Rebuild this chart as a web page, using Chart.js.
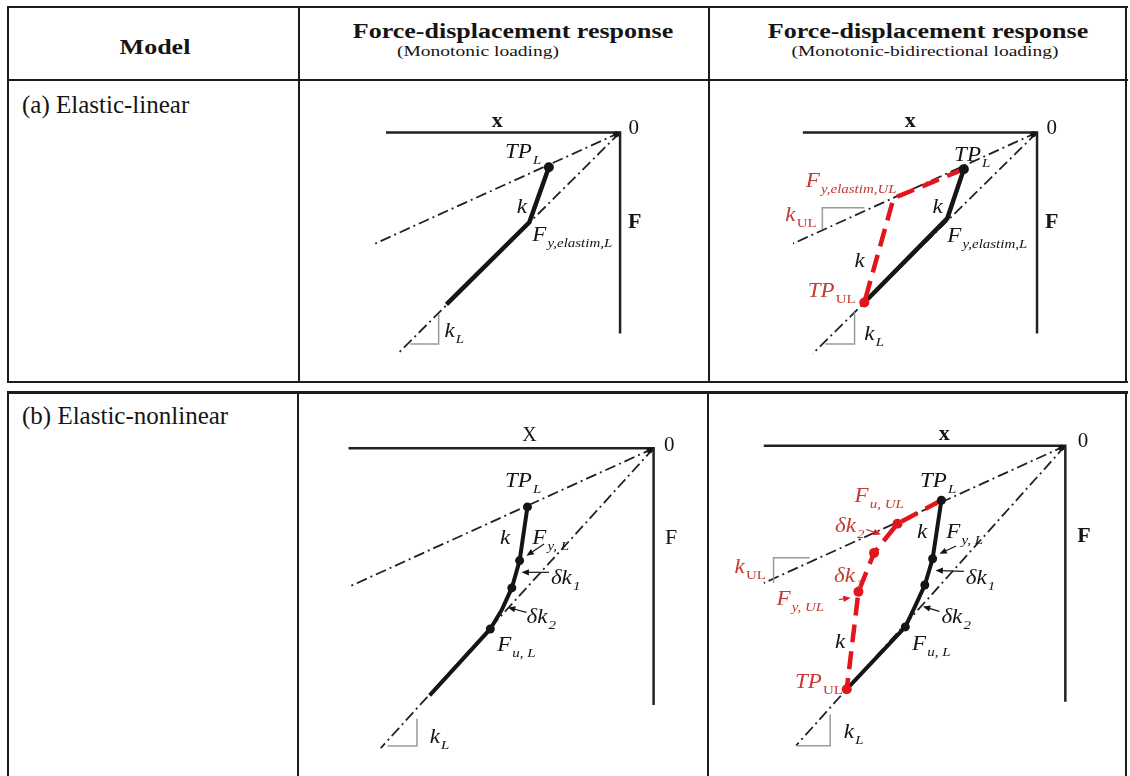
<!DOCTYPE html>
<html>
<head>
<meta charset="utf-8">
<script src="https://cdn.jsdelivr.net/npm/chart.js@4.4.1/dist/chart.umd.min.js"></script>
<style>
  body { margin: 0; background: #fff; width: 1130px; height: 776px; overflow: hidden; position: relative;
         font-family: "Liberation Serif", "Times New Roman", serif; color: #151515; }
  .ln { position: absolute; background: #1c1c1c; }
  .hd { position: absolute; width: 600px; text-align: center; line-height: 24px; white-space: nowrap; transform: scaleX(1.3); }
  .rw { position: absolute; white-space: nowrap; font-size: 25px; line-height: 28px; }
  canvas { position: absolute; }
</style>
</head>
<body>
<!-- table (a) -->
<div class="ln" style="left:7px;top:6px;width:1121px;height:2px"></div>
<div class="ln" style="left:7px;top:79px;width:1121px;height:2px"></div>
<div class="ln" style="left:7px;top:381px;width:1121px;height:2px"></div>
<div class="ln" style="left:7px;top:6px;width:2px;height:377px"></div>
<div class="ln" style="left:298px;top:6px;width:2px;height:377px"></div>
<div class="ln" style="left:708px;top:6px;width:2px;height:377px"></div>
<div class="ln" style="left:1125px;top:6px;width:2px;height:377px"></div>
<!-- table (b) -->
<div class="ln" style="left:7px;top:391px;width:1121px;height:3px"></div>
<div class="ln" style="left:7px;top:391px;width:2px;height:385px"></div>
<div class="ln" style="left:297px;top:391px;width:2px;height:385px"></div>
<div class="ln" style="left:707px;top:391px;width:2px;height:385px"></div>
<div class="ln" style="left:1125px;top:391px;width:2px;height:385px"></div>

<div class="hd" style="left:-145px;top:35px;font-size:20px;font-weight:bold">Model</div>
<div class="hd" style="left:213px;top:19px;font-size:20px;font-weight:bold">Force-displacement response</div>
<div class="hd" style="left:178px;top:39px;font-size:15px">(Monotonic loading)</div>
<div class="hd" style="left:628px;top:19px;font-size:20px;font-weight:bold">Force-displacement response</div>
<div class="hd" style="left:625px;top:39px;font-size:15px">(Monotonic-bidirectional loading)</div>
<div class="rw" style="left:22px;top:91px">(a) Elastic-linear</div>
<div class="rw" style="left:22px;top:402px">(b) Elastic-nonlinear</div>

<canvas id="pa1" width="406" height="298" style="left:301px;top:82px"></canvas>
<canvas id="pa2" width="413" height="298" style="left:711px;top:82px"></canvas>
<canvas id="pb1" width="406" height="381" style="left:300px;top:395px"></canvas>
<canvas id="pb2" width="414" height="381" style="left:710px;top:395px"></canvas>

<script>
// points are [displacement, force], origin at the axes corner, compression to the left / downward

// (a) elastic-linear, monotonic
const a1Axes = [[-240, 0], [0, 0], [0, -208]];
const a1RefK = [[0, 0], [-251, -115]];
const a1RefKL = [[0, 0], [-228, -229]];
const a1Load = [[-73, -36], [-93, -93], [-178, -178]];
const a1Marks = [[-73, -36]];
const a1TriL = [[-186, -188], [-186, -219], [-215, -219]];

// (a) elastic-linear, monotonic-bidirectional
const a2Axes = [[-240, 0], [0, 0], [0, -208]];
const a2RefK = [[0, 0], [-250, -115]];
const a2RefKL = [[0, 0], [-230, -229]];
const a2Load = [[-75, -38], [-92, -89], [-177, -176]];
const a2Unload = [[-75, -38], [-147, -68], [-177, -176]];
const a2Marks = [[-75, -38]];
const a2MarksUL = [[-177, -176]];
const a2TriUL = [[-220, -100], [-220, -78], [-177, -78]];
const a2TriL = [[-187, -186], [-187, -219], [-217, -219]];

// (b) elastic-nonlinear, monotonic
const b1Axes = [[-312, 0], [0, 0], [0, -263]];
const b1RefK = [[0, 0], [-312, -142]];
const b1RefKL = [[0, 0], [-279, -307]];
const b1Load = [[-129, -60], [-137, -115], [-145, -143], [-155, -165], [-167, -185], [-229, -253]];
const b1Marks = [[-129, -60], [-137, -115], [-145, -143], [-167, -185]];
const b1TriL = [[-242, -277], [-242, -305], [-272, -305]];

// (b) elastic-nonlinear, monotonic-bidirectional
const b2Axes = [[-309, 0], [0, 0], [0, -263]];
const b2RefK = [[0, 0], [-309, -141]];
const b2RefKL = [[0, 0], [-276, -308]];
const b2Load = [[-127, -56], [-136, -116], [-144, -143], [-154, -165], [-164, -186], [-224, -250]];
const b2Marks = [[-127, -56], [-136, -116], [-144, -143], [-164, -186]];
const b2Unload = [[-127, -56], [-172, -80], [-196, -110], [-212, -150], [-224, -250]];
const b2MarksUL = [[-172, -80], [-196, -110], [-212, -150], [-224, -250]];
const b2TriUL = [[-299, -141], [-299, -115], [-262, -115]];
const b2TriL = [[-241, -276], [-241, -308], [-276, -308]];

const BLK = '#151515';
const RED = '#e3151c';
const REDTXT = '#c43a34';
const GREY = '#9a9a9a';
const FONT = '"Liberation Serif", "Times New Roman", serif';
const DASHDOT = [11, 4, 2, 4];

function pts(a) { return a.map(([x, y]) => ({ x: x, y: y })); }

function lineSet(data, color, width, dash) {
  return { data: pts(data), showLine: true, borderColor: color, borderWidth: width,
           borderDash: dash || [], pointRadius: 0, tension: 0, borderCapStyle: 'butt' };
}
function dotSet(data, color, r) {
  return { data: pts(data), showLine: false, pointRadius: r, pointBackgroundColor: color,
           pointBorderColor: color, pointBorderWidth: 0 };
}

function drawArrow(ctx, x1, y1, x2, y2, col) {
  const ang = Math.atan2(y2 - y1, x2 - x1);
  ctx.save();
  ctx.strokeStyle = col; ctx.fillStyle = col; ctx.lineWidth = 1.2;
  ctx.beginPath(); ctx.moveTo(x1, y1); ctx.lineTo(x2 - 5 * Math.cos(ang), y2 - 5 * Math.sin(ang)); ctx.stroke();
  ctx.beginPath();
  ctx.moveTo(x2, y2);
  ctx.lineTo(x2 - 8 * Math.cos(ang - 0.4), y2 - 8 * Math.sin(ang - 0.4));
  ctx.lineTo(x2 - 8 * Math.cos(ang + 0.4), y2 - 8 * Math.sin(ang + 0.4));
  ctx.closePath(); ctx.fill();
  ctx.restore();
}

function drawMath(ctx, str, px, py, col) {
  const parts = str.split('_');
  ctx.save();
  ctx.translate(px, py);
  ctx.scale(1.15, 1);
  ctx.fillStyle = col;
  ctx.textAlign = 'left';
  ctx.textBaseline = 'alphabetic';
  ctx.font = 'italic 20px ' + FONT;
  ctx.fillText(parts[0], 0, 7);
  if (parts[1]) {
    const w = ctx.measureText(parts[0]).width;
    const upright = parts[1] === 'UL';
    ctx.font = (upright ? '' : 'italic ') + '13px ' + FONT;
    ctx.fillText(parts[1], w + 1, 13);
  }
  ctx.restore();
}

function drawAxisText(ctx, str, px, py, bold, size) {
  ctx.save();
  ctx.fillStyle = BLK;
  ctx.textAlign = 'center';
  ctx.textBaseline = 'middle';
  ctx.font = (bold ? 'bold ' : '') + size + 'px ' + FONT;
  ctx.fillText(str, px, py);
  ctx.restore();
}

function notesPlugin(p) {
  return {
    id: 'notes',
    afterDatasetsDraw(chart) {
      const ctx = chart.ctx, sx = chart.scales.x, sy = chart.scales.y;
      p.arrows.forEach(([x1, y1, x2, y2, col]) => {
        drawArrow(ctx, sx.getPixelForValue(x1), sy.getPixelForValue(y1),
                  sx.getPixelForValue(x2), sy.getPixelForValue(y2), col);
      });
      p.axisText.forEach(([t, x, y, bold, size]) => {
        drawAxisText(ctx, t, sx.getPixelForValue(x), sy.getPixelForValue(y), bold, size);
      });
      p.notes.forEach(([t, x, y, col]) => {
        drawMath(ctx, t, sx.getPixelForValue(x), sy.getPixelForValue(y), col || BLK);
      });
    }
  };
}

const panels = [
  {
    id: 'pa1', box: [301, 82, 406, 298], origin: [623, 129],
    sets: [
      dotSet(a1Marks, BLK, 5),
      dotSet([[-4, -2]], BLK, 3),
      lineSet(a1Load, BLK, 4.5),
      lineSet(a1Axes, '#222', 2.5),
      lineSet(a1TriL, GREY, 1.5),
      lineSet(a1RefK, '#222', 1.8, DASHDOT),
      lineSet(a1RefKL, '#222', 1.8, DASHDOT)
    ],
    axisText: [['x', -126, 12, true, 22], ['0', 14, 4, false, 21], ['F', 15, -93, true, 22]],
    notes: [['TP_L', -118, -19], ['k', -106, -76], ['F_y,elastim,L', -90, -105], ['k_L', -180, -204]],
    arrows: []
  },
  {
    id: 'pa2', box: [711, 82, 413, 298], origin: [1040, 129],
    sets: [
      dotSet(a2Marks, BLK, 5),
      dotSet(a2MarksUL, RED, 5),
      dotSet([[-4, -2]], BLK, 3),
      lineSet(a2Unload, RED, 4.5, [18, 9]),
      lineSet(a2Load, BLK, 4.5),
      lineSet(a2Axes, '#222', 2.5),
      lineSet(a2TriUL, GREY, 1.5),
      lineSet(a2TriL, GREY, 1.5),
      lineSet(a2RefK, '#222', 1.8, DASHDOT),
      lineSet(a2RefKL, '#222', 1.8, DASHDOT)
    ],
    axisText: [['x', -130, 12, true, 22], ['0', 15, 4, false, 21], ['F', 15, -93, true, 22]],
    notes: [['TP_L', -85, -22], ['k', -107, -76], ['F_y,elastim,L', -92, -106],
            ['F_y,elastim,UL', -237, -49, REDTXT], ['k_UL', -258, -84, REDTXT], ['k', -187, -132],
            ['TP_UL', -235, -163, REDTXT], ['k_L', -177, -208]],
    arrows: []
  },
  {
    id: 'pb1', box: [300, 395, 406, 381], origin: [657, 445],
    sets: [
      dotSet(b1Marks, BLK, 4.5),
      dotSet([[-4, -2]], BLK, 3),
      lineSet(b1Load, BLK, 4),
      lineSet(b1Axes, '#222', 2.5),
      lineSet(b1TriL, GREY, 1.5),
      lineSet(b1RefK, '#222', 1.8, DASHDOT),
      lineSet(b1RefKL, '#222', 1.8, DASHDOT)
    ],
    axisText: [['X', -127, 13, false, 20], ['0', 16, 3, false, 21], ['F', 18, -92, false, 22]],
    notes: [['TP_L', -152, -32], ['k', -157, -91], ['F_y, L', -124, -91], ['δk_1', -105, -132],
            ['δk_2', -130, -172], ['F_u, L', -160, -200], ['k_L', -229, -295]],
    arrows: [[-112, -98, -130, -110, BLK], [-107, -127, -135, -127, BLK], [-130, -168, -149, -163, BLK]]
  },
  {
    id: 'pb2', box: [710, 395, 414, 381], origin: [1069, 442],
    sets: [
      dotSet(b2Marks, BLK, 4.5),
      dotSet(b2MarksUL, RED, 5),
      dotSet([[-4, -2]], BLK, 3),
      lineSet(b2Unload, RED, 4.5, [18, 9]),
      lineSet(b2Load, BLK, 4),
      lineSet(b2Axes, '#222', 2.5),
      lineSet(b2TriUL, GREY, 1.5),
      lineSet(b2TriL, GREY, 1.5),
      lineSet(b2RefK, '#222', 1.8, DASHDOT),
      lineSet(b2RefKL, '#222', 1.8, DASHDOT)
    ],
    axisText: [['x', -124, 12, true, 22], ['0', 18, 4, false, 21], ['F', 19, -93, true, 22]],
    notes: [['TP_L', -149, -35], ['F_u, UL', -216, -51, REDTXT], ['δk_2', -236, -81, REDTXT],
            ['k_UL', -339, -123, REDTXT], ['δk_1', -237, -133, REDTXT], ['F_y, UL', -296, -156, REDTXT],
            ['k', -152, -88], ['F_y, L', -122, -88], ['δk_1', -102, -135], ['δk_2', -127, -175],
            ['F_u, L', -157, -203], ['k', -236, -201], ['TP_UL', -277, -242, REDTXT], ['k_L', -227, -293]],
    arrows: [[-204, -86, -189, -91, RED], [-232, -158, -220, -156, RED],
             [-112, -103, -129, -111, BLK], [-104, -129, -133, -128, BLK], [-129, -170, -146, -165, BLK]]
  }
];

panels.forEach(p => {
  const [left, top, w, h] = p.box;
  const [ox, oy] = p.origin;
  new Chart(document.getElementById(p.id), {
    type: 'scatter',
    data: { datasets: p.sets },
    options: {
      responsive: false,
      animation: false,
      events: [],
      layout: { padding: 0 },
      plugins: { legend: { display: false }, tooltip: { enabled: false } },
      scales: {
        x: { type: 'linear', display: false, min: left - ox, max: left + w - ox },
        y: { type: 'linear', display: false, min: oy - (top + h), max: oy - top }
      }
    },
    plugins: [notesPlugin(p)]
  });
});
</script>
</body>
</html>
